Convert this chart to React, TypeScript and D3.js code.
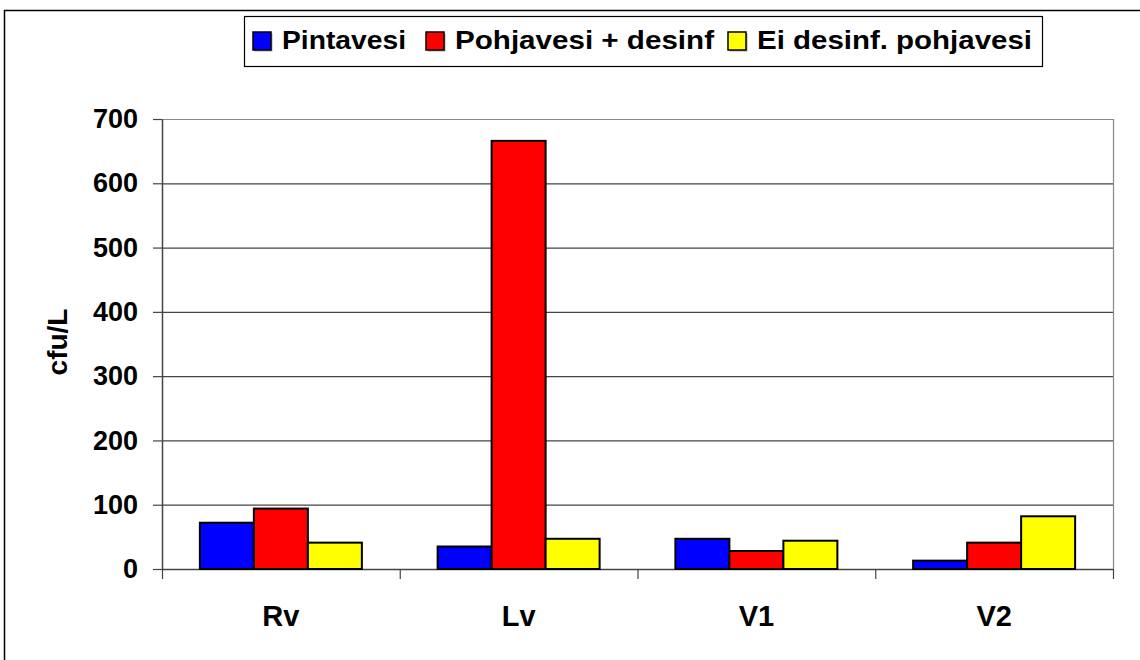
import React, { useEffect, useRef } from 'react';
import * as d3 from 'd3';

const categories = ['Rv', 'Lv', 'V1', 'V2'];
const seriesNames = ['Pintavesi', 'Pohjavesi + desinf', 'Ei desinf. pohjavesi'];
const pintavesi = [72, 35, 47, 13];
const pohjavesiDesinf = [94, 666, 28, 41];
const eiDesinf = [41, 47, 44, 82];
const yTicks = [0, 100, 200, 300, 400, 500, 600, 700];
const colors = ['#0000FF', '#FF0000', '#FFFF00'];

export default function App() {
  const svgRef = useRef<SVGSVGElement>(null);

  useEffect(() => {
    if (!svgRef.current) return;
    const svg = d3.select(svgRef.current);
    svg.selectAll('*').remove();

    const font = '"Liberation Sans", Arial, sans-serif';
    const left = 162, right = 1113, top = 119, bottom = 569;

    // outer chart border
    svg.append('rect')
      .attr('x', 4.5).attr('y', 10.5)
      .attr('width', 1140).attr('height', 660)
      .attr('fill', 'white').attr('stroke', '#000').attr('stroke-width', 1.5);

    const x0 = d3.scaleBand().domain(categories).range([left, right]);
    const y = d3.scaleLinear().domain([0, 700]).range([bottom, top]);

    // gridlines
    svg.append('g').selectAll('line')
      .data(yTicks.filter(d => d > 0))
      .enter().append('line')
      .attr('x1', left).attr('x2', right)
      .attr('y1', d => y(d) + 0.5).attr('y2', d => y(d) + 0.5)
      .attr('stroke', d => (d === 700 ? '#888' : '#444'))
      .attr('stroke-width', 1.2);

    // right plot border
    svg.append('line')
      .attr('x1', right + 0.5).attr('x2', right + 0.5)
      .attr('y1', top).attr('y2', bottom)
      .attr('stroke', '#888').attr('stroke-width', 1.2);

    // y axis
    const yAxis = svg.append('g')
      .attr('transform', `translate(${left},0)`)
      .call(d3.axisLeft(y).tickValues(yTicks).tickSize(9).tickPadding(15).tickSizeOuter(0));
    yAxis.select('.domain').attr('stroke', '#444').attr('stroke-width', 1.5);
    yAxis.selectAll('line').attr('stroke', '#444').attr('stroke-width', 1.2);
    yAxis.selectAll('text')
      .attr('font-family', font).attr('font-size', 27).attr('font-weight', 'bold').attr('fill', '#000');

    // x axis
    const xAxis = svg.append('g')
      .attr('transform', `translate(0,${bottom})`)
      .call(d3.axisBottom(x0).tickSize(0).tickPadding(36).tickSizeOuter(0));
    xAxis.select('.domain').attr('stroke', '#444').attr('stroke-width', 1.5);
    xAxis.selectAll('text')
      .attr('font-family', font).attr('font-size', 29).attr('font-weight', 'bold').attr('fill', '#000');
    svg.append('g').selectAll('line')
      .data(categories.concat(['end']))
      .enter().append('line')
      .attr('x1', (d, i) => left + i * x0.bandwidth() + 0.5)
      .attr('x2', (d, i) => left + i * x0.bandwidth() + 0.5)
      .attr('y1', bottom).attr('y2', bottom + 10)
      .attr('stroke', '#444').attr('stroke-width', 1.2);

    // bars
    const values = [pintavesi, pohjavesiDesinf, eiDesinf];
    const barW = 54;
    const offset = (x0.bandwidth() - barW * 3) / 2;
    categories.forEach((cat, ci) => {
      values.forEach((vals, si) => {
        svg.append('rect')
          .attr('x', (x0(cat) || 0) + offset + si * barW)
          .attr('y', y(vals[ci]))
          .attr('width', barW)
          .attr('height', bottom - y(vals[ci]))
          .attr('fill', colors[si])
          .attr('stroke', '#000').attr('stroke-width', 2);
      });
    });

    // legend
    const lg = svg.append('g');
    lg.append('rect')
      .attr('x', 244.5).attr('y', 16.5).attr('width', 798).attr('height', 50)
      .attr('fill', 'white').attr('stroke', '#000').attr('stroke-width', 1.2);
    const swatchX = [253, 426, 728];
    const textLen = [124, 259, 275];
    seriesNames.forEach((name, i) => {
      lg.append('rect')
        .attr('x', swatchX[i] + 1.5).attr('y', 33.5)
        .attr('width', 18).attr('height', 18).attr('fill', '#aaa');
      lg.append('rect')
        .attr('x', swatchX[i]).attr('y', 32)
        .attr('width', 18).attr('height', 18)
        .attr('fill', colors[i]).attr('stroke', '#000').attr('stroke-width', 1.5);
      lg.append('text')
        .attr('x', swatchX[i] + 29).attr('y', 49)
        .attr('font-family', font).attr('font-size', 25).attr('font-weight', 'bold')
        .attr('textLength', textLen[i]).attr('lengthAdjust', 'spacingAndGlyphs')
        .text(name);
    });

    // y title
    svg.append('text')
      .attr('transform', `translate(67,${(top + bottom) / 2 - 2}) rotate(-90)`)
      .attr('text-anchor', 'middle')
      .attr('font-family', font).attr('font-size', 28).attr('font-weight', 'bold')
      .text('cfu/L');
  }, []);

  return (
    <svg
      ref={svgRef}
      width={1140}
      height={660}
      style={{ position: 'absolute', left: 0, top: 0, background: 'white' }}
    />
  );
}
